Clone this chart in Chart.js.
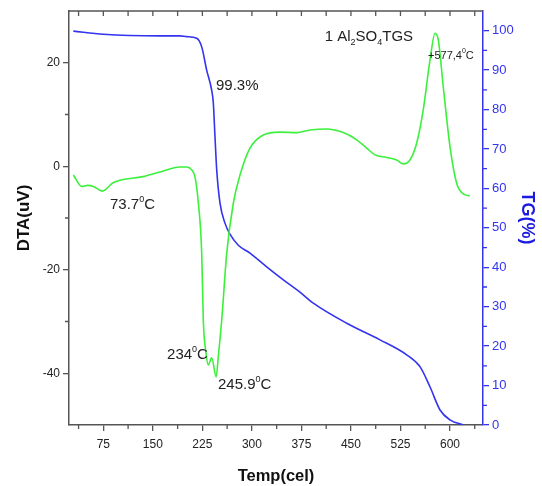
<!DOCTYPE html>
<html>
<head>
<meta charset="utf-8">
<script src="https://cdn.jsdelivr.net/npm/chart.js@4"></script>
<style>
  body { margin: 0; background: #fff; }
  #chart { display: block; }
</style>
</head>
<body>
<canvas id="chart" width="542" height="486"></canvas>
<script>
// DTA curve (left axis, uV)
const dtaTemp = [29.6, 42.3, 51.1, 59.9, 73.7, 89.7, 135.1, 160.9, 191.1, 201.3, 208.9, 213.9, 218.9, 224, 226.4, 230.5, 234, 239.1, 245.9, 249.1, 254.3, 261.9, 271.9, 282, 297.1, 317.3, 342.6, 367.9, 388, 413.3, 438.4, 458.7, 473.9, 486.4, 504.1, 519.3, 529.3, 539.4, 549.5, 559.5, 569.7, 577.4, 582.3, 589.8, 600, 610.1, 620.1, 630.2];
const dtaValue = [-1.7, -3.9, -3.7, -3.9, -4.8, -3.2, -2.0, -1.1, -0.15, -0.15, -0.7, -2.1, -7.1, -16.8, -29.7, -36.1, -38.4, -37.0, -40.7, -36.8, -29.7, -16.8, -7.1, -1.7, 3.5, 6.05, 6.6, 6.5, 7.0, 7.2, 6.5, 5.1, 3.5, 2.2, 1.7, 1.2, 0.45, 1.2, 4.45, 10.9, 20.5, 25.7, 24.4, 15.4, 3.8, -3.3, -5.35, -5.7];

// TG curve (right axis, %)
const tgTemp = [29.6, 75, 160.9, 191.1, 201.3, 216.4, 224, 231.5, 239.1, 241.6, 244.1, 246.7, 251.7, 259.2, 266.8, 279.4, 297.1, 322.4, 347.6, 371.8, 393, 443.6, 494, 534.4, 554.5, 569.7, 584.9, 600, 620.2];
const tgValue = [99.9, 99.1, 98.7, 98.7, 98.5, 98.1, 95.9, 90.0, 84.9, 81.6, 73.1, 64.7, 56.3, 51.2, 48.4, 45.6, 43.6, 40.1, 36.8, 33.8, 30.9, 25.8, 21.6, 17.8, 14.8, 9.7, 3.8, 1.3, 0];

// tick labels
const tempTicks = [75, 150, 225, 300, 375, 450, 525, 600];
const dtaTicks = [-40, -20, 0, 20];
const tgTicks = [0, 10, 20, 30, 40, 50, 60, 70, 80, 90, 100];

// notes: [temp, dta] anchor (left edge, middle) and text pieces
const notes = [
  { x: 245.6, y: 15.5, size: 15, parts: [['99.3%', 'n']] },
  { x: 85.1, y: -7.5, size: 15, parts: [['73.7', 'n'], ['0', 'sup'], ['C', 'n']] },
  { x: 171.5, y: -36.5, size: 15, parts: [['234', 'n'], ['0', 'sup'], ['C', 'n']] },
  { x: 248.7, y: -42.3, size: 15, parts: [['245.9', 'n'], ['0', 'sup'], ['C', 'n']] },
  { x: 410.3, y: 25.0, size: 15, parts: [['1 Al', 'n'], ['2', 'sub'], ['SO', 'n'], ['4', 'sub'], ['TGS', 'n']] },
  { x: 566.7, y: 21.4, size: 11, parts: [['+577,4', 'n'], ['0', 'sup'], ['C', 'n']] }
];

const FONT = '"Liberation Sans", Arial, sans-serif';
const axisGrey = '#555';
const blue = '#3333f0';
const green = '#3cf03c';

const pairs = (xs, ys) => xs.map((x, i) => ({ x: x, y: ys[i] }));
const useTicks = list => axis => { axis.ticks = list.map(v => ({ value: v })); };

const extras = {
  id: 'extras',
  afterDraw(chart) {
    const c = chart.ctx;
    const x = chart.scales.x, y = chart.scales.y, y1 = chart.scales.y1;
    const a = chart.chartArea;
    c.save();
    c.lineWidth = 1.3;
    c.strokeStyle = axisGrey;
    // top frame with inward ticks
    c.beginPath();
    c.moveTo(a.left, a.top);
    c.lineTo(a.right, a.top);
    for (let v = 37.5; v < x.max; v += 37.5) {
      const px = x.getPixelForValue(v);
      c.moveTo(px, a.top);
      c.lineTo(px, a.top + 5);
    }
    // bottom minor ticks
    for (let v = 37.5; v < x.max; v += 75) {
      const px = x.getPixelForValue(v);
      c.moveTo(px, a.bottom);
      c.lineTo(px, a.bottom + 4);
    }
    // left minor ticks
    [10, -10, -30].forEach(v => {
      const py = y.getPixelForValue(v);
      c.moveTo(a.left, py);
      c.lineTo(a.left - 4, py);
    });
    c.stroke();
    // right minor ticks
    c.strokeStyle = blue;
    c.beginPath();
    for (let v = 5; v < 100; v += 10) {
      const py = y1.getPixelForValue(v);
      c.moveTo(a.right, py);
      c.lineTo(a.right + 4, py);
    }
    c.stroke();

    // annotations
    c.fillStyle = '#222';
    c.textBaseline = 'middle';
    c.textAlign = 'left';
    notes.forEach(n => {
      let px = x.getPixelForValue(n.x);
      const py = y.getPixelForValue(n.y);
      n.parts.forEach(([txt, kind]) => {
        const s = kind === 'n' ? n.size : Math.round(n.size * 0.62);
        const off = kind === 'sup' ? -n.size * 0.38 : kind === 'sub' ? n.size * 0.4 : 0;
        c.font = s + 'px ' + FONT;
        c.fillText(txt, px, py + off);
        px += c.measureText(txt).width;
      });
    });
    c.restore();
  }
};

const ctx = document.getElementById('chart').getContext('2d');
const chart = new Chart(ctx, {
  type: 'line',
  data: {
    datasets: [{
      label: 'DTA',
      data: pairs(dtaTemp, dtaValue),
      yAxisID: 'y',
      borderColor: green,
      borderWidth: 1.6,
      pointRadius: 0,
      cubicInterpolationMode: 'monotone',
      fill: false
    }, {
      label: 'TG',
      data: pairs(tgTemp, tgValue),
      yAxisID: 'y1',
      borderColor: blue,
      borderWidth: 1.6,
      pointRadius: 0,
      cubicInterpolationMode: 'monotone',
      fill: false
    }]
  },
  options: {
    responsive: false,
    animation: false,
    devicePixelRatio: 1,
    layout: { padding: { top: 11, left: 0, right: 0, bottom: 0 } },
    plugins: {
      legend: { display: false },
      tooltip: { enabled: false }
    },
    scales: {
      x: {
        type: 'linear',
        position: 'bottom',
        min: 23,
        max: 650,
        afterBuildTicks: useTicks(tempTicks),
        afterFit: s => { s.height = 61; },
        grid: { drawOnChartArea: false, tickLength: 6, color: axisGrey, lineWidth: 1.3 },
        border: { color: axisGrey, width: 1.5 },
        ticks: { padding: 6, color: '#222', font: { family: FONT, size: 12 } },
        title: {
          display: true,
          text: 'Temp(cel)',
          color: '#111',
          font: { family: FONT, size: 16.5, weight: 'bold' },
          padding: { top: 0, bottom: 0 }
        }
      },
      y: {
        position: 'left',
        min: -50,
        max: 30,
        afterBuildTicks: useTicks(dtaTicks),
        afterFit: s => { s.width = 69; },
        grid: { drawOnChartArea: false, tickLength: 6, color: axisGrey, lineWidth: 1.3 },
        border: { color: axisGrey, width: 1.5 },
        ticks: { padding: 3, color: '#222', font: { family: FONT, size: 12 } },
        title: {
          display: true,
          text: 'DTA(uV)',
          color: '#111',
          font: { family: FONT, size: 17, weight: 'bold' },
          padding: { top: 14, bottom: 0 }
        }
      },
      y1: {
        position: 'right',
        min: 0,
        max: 105,
        afterBuildTicks: useTicks(tgTicks),
        afterFit: s => { s.width = 59; },
        grid: { drawOnChartArea: false, tickLength: 6, color: blue, lineWidth: 1.3 },
        border: { color: blue, width: 1.5 },
        ticks: { padding: 3, color: blue, font: { family: FONT, size: 13 } },
        title: {
          display: true,
          text: 'TG(%)',
          color: '#1a1ae0',
          font: { family: FONT, size: 18, weight: 'bold' },
          padding: { top: 4, bottom: 0 }
        }
      }
    }
  },
  plugins: [extras]
});
</script>
</body>
</html>
